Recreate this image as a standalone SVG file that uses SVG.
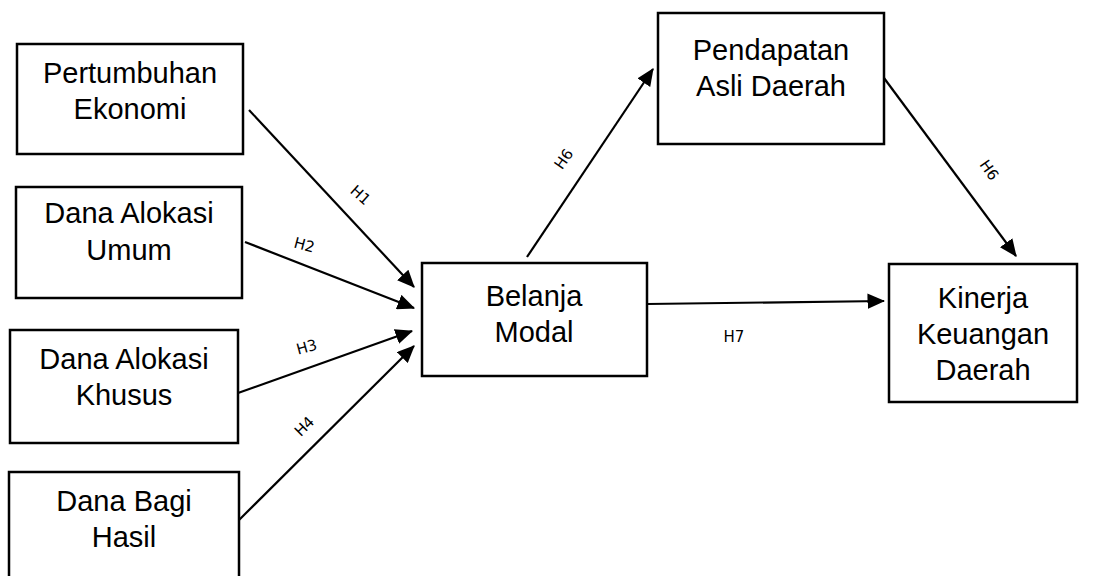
<svg xmlns="http://www.w3.org/2000/svg" width="1108" height="576" viewBox="0 0 1108 576">
<style>
.box{fill:#fff;stroke:#000;stroke-width:2.5}
.t{font-family:"Liberation Sans",Arial,sans-serif;font-size:29px;fill:#000;text-anchor:middle}
.c{stroke:#000;stroke-width:2.2;fill:none;marker-end:url(#ah)}
.l{font-family:"DejaVu Sans",sans-serif;font-size:15px;fill:#000;text-anchor:middle}
</style>
<defs>
<marker id="ah" markerWidth="8" markerHeight="7" refX="7.5" refY="3.5" orient="auto" markerUnits="strokeWidth">
<path d="M0,0 L8,3.5 L0,7 Z" fill="#000"/>
</marker>
</defs>
<rect width="1108" height="576" fill="#fff"/>
<g id="n1"><rect class="box" x="17" y="44" width="226" height="110"/><text class="t" x="130" y="83">Pertumbuhan</text><text class="t" x="130" y="119">Ekonomi</text></g>
<g id="n2"><rect class="box" x="16" y="187" width="226" height="111"/><text class="t" x="129" y="223">Dana Alokasi</text><text class="t" x="129" y="260">Umum</text></g>
<g id="n3"><rect class="box" x="10" y="330" width="228" height="113"/><text class="t" x="124" y="369">Dana Alokasi</text><text class="t" x="124" y="405">Khusus</text></g>
<g id="n4"><rect class="box" x="9" y="472" width="230" height="110"/><text class="t" x="124" y="511">Dana Bagi</text><text class="t" x="124" y="547">Hasil</text></g>
<g id="n5"><rect class="box" x="422" y="263" width="225" height="113"/><text class="t" x="534" y="306">Belanja</text><text class="t" x="534" y="342">Modal</text></g>
<g id="n6"><rect class="box" x="658" y="13" width="226" height="131"/><text class="t" x="771" y="60">Pendapatan</text><text class="t" x="771" y="96">Asli Daerah</text></g>
<g id="n7"><rect class="box" x="889" y="264" width="188" height="138"/><text class="t" x="983" y="308">Kinerja</text><text class="t" x="983" y="344">Keuangan</text><text class="t" x="983" y="380">Daerah</text></g>
<g id="connectors">
<line class="c" x1="249" y1="110" x2="414" y2="287"/>
<line class="c" x1="245" y1="242" x2="414" y2="308"/>
<line class="c" x1="238" y1="393" x2="412" y2="331"/>
<line class="c" x1="239" y1="520" x2="414" y2="346"/>
<line class="c" x1="527" y1="257" x2="653" y2="69"/>
<line class="c" x1="884" y1="78" x2="1016" y2="256"/>
<line class="c" x1="647" y1="304" x2="884" y2="301"/>
<text class="l" transform="translate(357,199) rotate(42)">H1</text>
<text class="l" transform="translate(303,250) rotate(15)">H2</text>
<text class="l" transform="translate(308,352) rotate(-15)">H3</text>
<text class="l" transform="translate(308,430) rotate(-45)">H4</text>
<text class="l" transform="translate(568,162) rotate(-55)">H6</text>
<text class="l" transform="translate(985,173) rotate(55)">H6</text>
<text class="l" x="734" y="342">H7</text>
</g>
</svg>
